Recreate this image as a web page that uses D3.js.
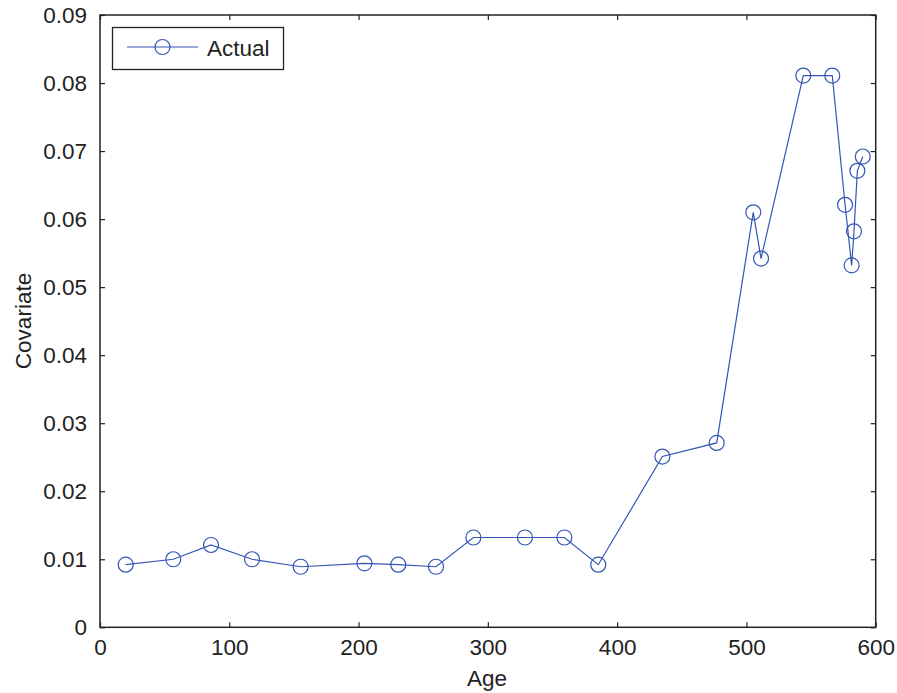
<!DOCTYPE html>
<html>
<head>
<meta charset="utf-8">
<script src="https://cdn.jsdelivr.net/npm/d3@7"></script>
<style>
  body { margin: 0; background: #fff; }
  text { font-family: "Liberation Sans", Arial, sans-serif; fill: #222; }
</style>
</head>
<body>
<svg id="chart"></svg>
<script>
// values
const age = [19.9, 56.7, 85.9, 117.6, 155.2, 204.5, 230.7, 259.9, 288.8, 328.7, 359.2, 385.4,
             435, 477, 505.3, 511.3, 544.0, 566.4, 576.3, 581.4, 583.2, 585.8, 590.0];
const covariate = [0.0092, 0.0100, 0.0121, 0.0100, 0.0089, 0.0094, 0.0092, 0.0089, 0.0132, 0.0132, 0.0132, 0.0092,
                   0.0251, 0.0271, 0.0610, 0.0542, 0.0811, 0.0811, 0.0621, 0.0532, 0.0582, 0.0671, 0.0692];
const xTicks = [0, 100, 200, 300, 400, 500, 600];
const yTicks = [0, 0.01, 0.02, 0.03, 0.04, 0.05, 0.06, 0.07, 0.08, 0.09];
const seriesName = "Actual";

const width = 897, height = 693;
const plotL = 100, plotR = 875.7, plotT = 15, plotB = 627.3;
const blue = "#3355b5";
const fs = 22.5;

const svg = d3.select("#chart")
  .attr("width", width)
  .attr("height", height);

const x = d3.scaleLinear().domain([0, 600]).range([plotL, plotR]);
const y = d3.scaleLinear().domain([0, 0.09]).range([plotB, plotT]);

// box + inward ticks like matlab
const tickLen = 5;
svg.append("g")
  .attr("transform", `translate(0,${plotB})`)
  .call(d3.axisBottom(x).tickValues(xTicks).tickSizeInner(-tickLen).tickSizeOuter(0).tickPadding(12))
  .call(g => g.select(".domain").remove());
svg.append("g")
  .attr("transform", `translate(0,${plotT})`)
  .call(d3.axisTop(x).tickValues(xTicks).tickSizeInner(-tickLen).tickSizeOuter(0).tickFormat(""))
  .call(g => g.select(".domain").remove());
svg.append("g")
  .attr("transform", `translate(${plotL},0)`)
  .call(d3.axisLeft(y).tickValues(yTicks).tickSizeInner(-tickLen).tickSizeOuter(0).tickPadding(13)
    .tickFormat(d => d === 0 ? "0" : d3.format(".2f")(d)))
  .call(g => g.select(".domain").remove());
svg.append("g")
  .attr("transform", `translate(${plotR},0)`)
  .call(d3.axisRight(y).tickValues(yTicks).tickSizeInner(-tickLen).tickSizeOuter(0).tickFormat(""))
  .call(g => g.select(".domain").remove());

svg.selectAll(".tick line").attr("stroke", "#222").attr("stroke-width", 1.2);
svg.selectAll(".tick text")
  .attr("font-size", fs)
  .attr("font-family", "Liberation Sans, Arial, sans-serif")
  .attr("fill", "#222");

svg.append("rect")
  .attr("x", plotL).attr("y", plotT)
  .attr("width", plotR - plotL).attr("height", plotB - plotT)
  .attr("fill", "none").attr("stroke", "#222").attr("stroke-width", 1.5);

// data line
const pts = age.map((a, i) => [a, covariate[i]]);
svg.append("path")
  .datum(pts)
  .attr("fill", "none")
  .attr("stroke", blue)
  .attr("stroke-width", 1.2)
  .attr("d", d3.line().x(d => x(d[0])).y(d => y(d[1])));

svg.selectAll(".marker")
  .data(pts)
  .enter()
  .append("circle")
  .attr("class", "marker")
  .attr("cx", d => x(d[0]))
  .attr("cy", d => y(d[1]))
  .attr("r", 7.5)
  .attr("fill", "none")
  .attr("stroke", blue)
  .attr("stroke-width", 1.2);

// legend
const leg = svg.append("g");
leg.append("rect")
  .attr("x", 112.5).attr("y", 27.5).attr("width", 171).attr("height", 42)
  .attr("fill", "#fff").attr("stroke", "#222").attr("stroke-width", 1.3);
leg.append("line")
  .attr("x1", 127).attr("x2", 198).attr("y1", 47).attr("y2", 47)
  .attr("stroke", blue).attr("stroke-width", 1.2);
leg.append("circle")
  .attr("cx", 162.5).attr("cy", 47).attr("r", 7.5)
  .attr("fill", "none").attr("stroke", blue).attr("stroke-width", 1.2);
leg.append("text")
  .attr("x", 207).attr("y", 56)
  .attr("font-size", fs)
  .text(seriesName);

// axis titles
svg.append("text")
  .attr("x", 487).attr("y", 686)
  .attr("text-anchor", "middle")
  .attr("font-size", fs)
  .text("Age");
svg.append("text")
  .attr("transform", "translate(31,321) rotate(-90)")
  .attr("text-anchor", "middle")
  .attr("font-size", fs)
  .text("Covariate");
</script>
</body>
</html>
